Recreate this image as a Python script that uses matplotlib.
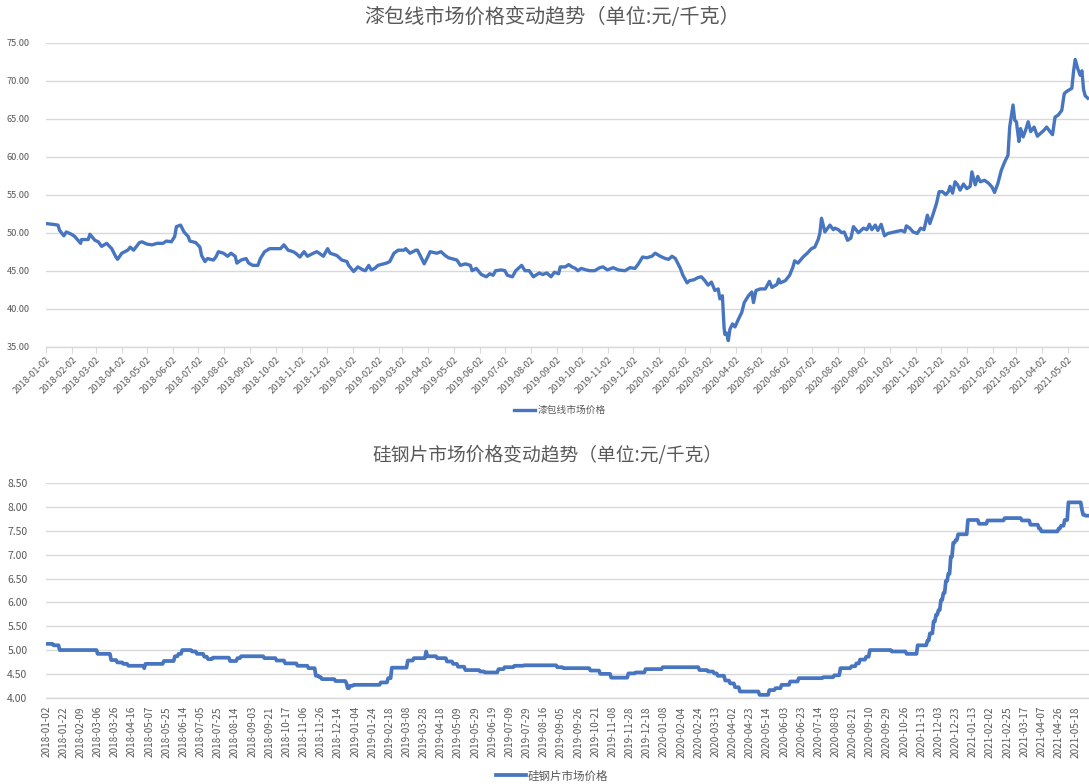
import matplotlib
matplotlib.use("Agg")
import matplotlib.pyplot as plt
import numpy as np
import pandas as pd

plt.rcParams['font.family'] = ['Noto Sans CJK SC', 'DejaVu Sans']

# ---------------- data: top chart (enamelled wire) ----------------
top_title = "漆包线市场价格变动趋势（单位:元/千克）"
top_legend = "漆包线市场价格"
top_dates = [
    "2018-01-02", "2018-01-10", "2018-01-16", "2018-01-18", "2018-01-23", "2018-01-26", "2018-02-01", "2018-02-05",
    "2018-02-12", "2018-02-13", "2018-02-21", "2018-02-23", "2018-03-01", "2018-03-05", "2018-03-09", "2018-03-15",
    "2018-03-21", "2018-03-26", "2018-03-28", "2018-04-02", "2018-04-09", "2018-04-12", "2018-04-16", "2018-04-23",
    "2018-04-26", "2018-05-02", "2018-05-08", "2018-05-14", "2018-05-21", "2018-05-25", "2018-05-31", "2018-06-04",
    "2018-06-06", "2018-06-11", "2018-06-15", "2018-06-20", "2018-06-22", "2018-06-29", "2018-07-04", "2018-07-06",
    "2018-07-10", "2018-07-13", "2018-07-20", "2018-07-23", "2018-07-26", "2018-08-01", "2018-08-06", "2018-08-10",
    "2018-08-15", "2018-08-17", "2018-08-22", "2018-08-28", "2018-08-31", "2018-09-05", "2018-09-11", "2018-09-14",
    "2018-09-19", "2018-09-25", "2018-09-28", "2018-10-08", "2018-10-12", "2018-10-17", "2018-10-23", "2018-10-26",
    "2018-10-31", "2018-11-05", "2018-11-09", "2018-11-16", "2018-11-20", "2018-11-23", "2018-11-28", "2018-12-03",
    "2018-12-06", "2018-12-14", "2018-12-20", "2018-12-26", "2018-12-28", "2019-01-03", "2019-01-08", "2019-01-14",
    "2019-01-17", "2019-01-21", "2019-01-24", "2019-01-28", "2019-02-01", "2019-02-11", "2019-02-15", "2019-02-20",
    "2019-02-25", "2019-03-04", "2019-03-06", "2019-03-11", "2019-03-18", "2019-03-20", "2019-03-25", "2019-03-28",
    "2019-04-02", "2019-04-04", "2019-04-12", "2019-04-17", "2019-04-22", "2019-04-26", "2019-05-06", "2019-05-10",
    "2019-05-16", "2019-05-22", "2019-05-24", "2019-05-29", "2019-06-04", "2019-06-10", "2019-06-14", "2019-06-18",
    "2019-06-21", "2019-06-28", "2019-07-02", "2019-07-05", "2019-07-11", "2019-07-15", "2019-07-22", "2019-07-26",
    "2019-07-31", "2019-08-05", "2019-08-12", "2019-08-16", "2019-08-21", "2019-08-26", "2019-08-30", "2019-09-04",
    "2019-09-06", "2019-09-12", "2019-09-16", "2019-09-20", "2019-09-24", "2019-09-27", "2019-10-01", "2019-10-07",
    "2019-10-11", "2019-10-17", "2019-10-23", "2019-10-27", "2019-11-01", "2019-11-08", "2019-11-14", "2019-11-22",
    "2019-11-28", "2019-12-04", "2019-12-08", "2019-12-13", "2019-12-18", "2019-12-24", "2019-12-28", "2020-01-03",
    "2020-01-09", "2020-01-13", "2020-01-17", "2020-01-21", "2020-01-27", "2020-01-30", "2020-02-04", "2020-02-07",
    "2020-02-12", "2020-02-17", "2020-02-21", "2020-02-25", "2020-02-29", "2020-03-04", "2020-03-08", "2020-03-12",
    "2020-03-14", "2020-03-17", "2020-03-19", "2020-03-20", "2020-03-22", "2020-03-24", "2020-03-26", "2020-03-29",
    "2020-04-01", "2020-04-05", "2020-04-09", "2020-04-12", "2020-04-17", "2020-04-21", "2020-04-23", "2020-04-26",
    "2020-05-01", "2020-05-07", "2020-05-12", "2020-05-15", "2020-05-21", "2020-05-23", "2020-05-25", "2020-05-31",
    "2020-06-05", "2020-06-09", "2020-06-11", "2020-06-15", "2020-06-21", "2020-06-26", "2020-07-01", "2020-07-05",
    "2020-07-09", "2020-07-11", "2020-07-13", "2020-07-17", "2020-07-23", "2020-07-27", "2020-07-29", "2020-08-02",
    "2020-08-06", "2020-08-09", "2020-08-13", "2020-08-17", "2020-08-20", "2020-08-26", "2020-09-01", "2020-09-05",
    "2020-09-08", "2020-09-11", "2020-09-15", "2020-09-18", "2020-09-22", "2020-09-26", "2020-09-30", "2020-10-08",
    "2020-10-16", "2020-10-20", "2020-10-22", "2020-10-26", "2020-10-30", "2020-11-04", "2020-11-08", "2020-11-12",
    "2020-11-16", "2020-11-19", "2020-11-23", "2020-11-27", "2020-11-30", "2020-12-04", "2020-12-08", "2020-12-11",
    "2020-12-13", "2020-12-16", "2020-12-19", "2020-12-22", "2020-12-25", "2020-12-29", "2021-01-02", "2021-01-06",
    "2021-01-08", "2021-01-12", "2021-01-15", "2021-01-18", "2021-01-23", "2021-01-28", "2021-02-01", "2021-02-04",
    "2021-02-08", "2021-02-12", "2021-02-16", "2021-02-20", "2021-02-22", "2021-02-26", "2021-02-28", "2021-03-02",
    "2021-03-05", "2021-03-07", "2021-03-10", "2021-03-13", "2021-03-16", "2021-03-19", "2021-03-23", "2021-03-27",
    "2021-03-31", "2021-04-04", "2021-04-07", "2021-04-11", "2021-04-14", "2021-04-17", "2021-04-21", "2021-04-25",
    "2021-04-28", "2021-05-01", "2021-05-07", "2021-05-09", "2021-05-11", "2021-05-14", "2021-05-17", "2021-05-19",
    "2021-05-21", "2021-05-23", "2021-05-26",
]
top_values = [
    51.2, 51.1, 51.0, 50.3, 49.6, 50.1, 49.8, 49.5,
    48.6, 49.1, 49.1, 49.8, 49.0, 48.8, 48.2, 48.6,
    47.9, 46.8, 46.5, 47.3, 47.7, 48.1, 47.7, 48.7,
    48.8, 48.5, 48.4, 48.6, 48.6, 48.9, 48.8, 49.5,
    50.8, 51.0, 50.1, 49.5, 48.9, 48.7, 48.1, 47.0,
    46.2, 46.6, 46.4, 46.8, 47.5, 47.3, 46.9, 47.3,
    46.9, 46.0, 46.4, 46.6, 46.0, 45.7, 45.7, 46.6,
    47.5, 47.9, 47.9, 47.9, 48.4, 47.7, 47.5, 47.3,
    46.8, 47.5, 46.9, 47.3, 47.5, 47.3, 46.9, 47.9,
    47.3, 47.0, 46.4, 46.2, 45.7, 44.9, 45.5, 45.1,
    45.0, 45.7, 45.1, 45.3, 45.7, 46.0, 46.2, 47.3,
    47.7, 47.7, 47.9, 47.3, 47.7, 47.7, 46.6, 45.9,
    47.0, 47.5, 47.3, 47.5, 47.0, 46.7, 46.4, 45.7,
    45.9, 45.7, 45.0, 45.3, 44.5, 44.2, 44.6, 44.4,
    45.0, 45.1, 45.0, 44.4, 44.2, 45.0, 45.7, 45.0,
    45.0, 44.2, 44.7, 44.5, 44.7, 44.2, 44.8, 44.6,
    45.5, 45.5, 45.8, 45.5, 45.3, 45.0, 45.3, 45.1,
    45.0, 45.0, 45.4, 45.5, 45.1, 45.4, 45.1, 45.0,
    45.4, 45.3, 45.9, 46.8, 46.7, 46.9, 47.3, 46.9,
    46.6, 46.5, 46.9, 46.6, 45.3, 44.4, 43.4, 43.7,
    43.8, 44.1, 44.2, 43.7, 43.1, 43.5, 42.4, 42.6,
    41.3, 41.7, 37.5, 36.6, 36.8, 35.8, 37.3, 38.0,
    37.6, 38.6, 39.5, 40.8, 41.7, 42.2, 40.8, 42.4,
    42.6, 42.6, 43.6, 42.8, 43.2, 43.9, 43.4, 43.7,
    44.4, 45.5, 46.3, 46.0, 46.8, 47.3, 47.9, 48.1,
    49.1, 49.9, 51.9, 50.1, 51.0, 50.4, 50.6, 50.4,
    50.0, 50.1, 49.0, 49.3, 50.8, 50.0, 50.6, 50.4,
    51.1, 50.4, 51.0, 50.3, 51.1, 49.6, 49.9, 50.1,
    50.3, 50.1, 50.9, 50.6, 50.1, 49.9, 50.6, 50.4,
    52.3, 51.2, 52.5, 53.9, 55.4, 55.4, 55.0, 55.4,
    56.1, 55.2, 56.7, 56.3, 55.6, 56.4, 55.8, 56.1,
    58.0, 56.3, 57.4, 56.7, 56.9, 56.5, 56.0, 55.3,
    56.5, 58.2, 59.3, 60.2, 63.9, 66.8, 64.8, 64.6,
    62.0, 63.7, 62.6, 63.5, 64.6, 63.3, 63.9, 62.7,
    63.1, 63.5, 63.9, 63.3, 62.9, 65.2, 65.5, 66.1,
    68.3, 68.6, 69.0, 71.2, 72.8, 71.6, 70.7, 71.3,
    68.8, 68.0, 67.7,
]
top_tick_dates = pd.date_range("2018-01-01", "2021-05-01", freq="MS") + pd.Timedelta(days=1)
top_ylim = (35, 75)
top_yticks = [35, 40, 45, 50, 55, 60, 65, 70, 75]

# ---------------- data: bottom chart (silicon steel) ----------------
bottom_title = "硅钢片市场价格变动趋势（单位:元/千克）"
bottom_legend = "硅钢片市场价格"
bottom_tick_labels = [
    "2018-01-02", "2018-01-22", "2018-02-09", "2018-03-06", "2018-03-26", "2018-04-16", "2018-05-07", "2018-05-25",
    "2018-06-14", "2018-07-05", "2018-07-25", "2018-08-14", "2018-09-03", "2018-09-21", "2018-10-17", "2018-11-06",
    "2018-11-26", "2018-12-14", "2019-01-04", "2019-01-24", "2019-02-18", "2019-03-08", "2019-03-28", "2019-04-18",
    "2019-05-09", "2019-05-29", "2019-06-19", "2019-07-09", "2019-07-29", "2019-08-16", "2019-09-05", "2019-09-26",
    "2019-10-21", "2019-11-08", "2019-11-28", "2019-12-18", "2020-01-08", "2020-02-04", "2020-02-24", "2020-03-13",
    "2020-04-02", "2020-04-23", "2020-05-14", "2020-06-03", "2020-06-23", "2020-07-14", "2020-08-03", "2020-08-21",
    "2020-09-10", "2020-09-29", "2020-10-26", "2020-11-13", "2020-12-03", "2020-12-23", "2021-01-13", "2021-02-02",
    "2021-02-25", "2021-03-17", "2021-04-07", "2021-04-26", "2021-05-18",
]
bottom_label_step = 14          # one label every 14 trading days
bottom_count = 851              # trading days shown
# trading-day index where the price changes, and the price from there on
bottom_change_index = [
    0, 6, 11, 42, 53, 58, 63, 67, 80, 81, 96, 105, 108, 111, 119, 123, 129, 132, 136, 150,
    156, 159, 178, 188, 195, 205, 214, 220, 223, 225, 236, 245, 246, 248, 251, 273, 279, 282,
    295, 300, 310, 311, 319, 327, 332, 336, 342, 354, 358, 369, 374, 382, 390, 417, 422, 444,
    452, 461, 475, 481, 489, 503, 533, 540, 545, 548, 554, 558, 562, 566, 582, 590, 595, 600,
    607, 614, 634, 643, 648, 657, 661, 664, 669, 672, 690, 702, 711, 719, 721, 724, 726, 728,
    730, 732, 734, 736, 738, 740, 742, 744, 752, 761, 768, 782, 796, 803, 810, 812, 826, 828,
    831, 834, 845, 846, 848,
]
bottom_levels = [
    5.13, 5.10, 5.00, 4.92, 4.79, 4.74, 4.71, 4.67, 4.62, 4.71, 4.77, 4.87, 4.92, 5.00, 4.97, 4.92, 4.86, 4.81, 4.84, 4.77,
    4.83, 4.87, 4.83, 4.78, 4.72, 4.67, 4.62, 4.46, 4.43, 4.39, 4.35, 4.30, 4.20, 4.25, 4.27, 4.32, 4.41, 4.63,
    4.78, 4.83, 4.97, 4.87, 4.83, 4.76, 4.71, 4.65, 4.58, 4.55, 4.53, 4.60, 4.64, 4.67, 4.68, 4.64, 4.62, 4.57,
    4.50, 4.42, 4.51, 4.53, 4.60, 4.64, 4.58, 4.55, 4.51, 4.46, 4.36, 4.30, 4.22, 4.13, 4.06, 4.16, 4.20, 4.27,
    4.34, 4.41, 4.43, 4.47, 4.62, 4.66, 4.72, 4.80, 4.86, 5.00, 4.97, 4.92, 5.10, 5.20, 5.35, 5.60, 5.74, 5.84,
    6.05, 6.20, 6.45, 6.60, 6.96, 7.25, 7.31, 7.43, 7.73, 7.65, 7.72, 7.77, 7.72, 7.63, 7.55, 7.49, 7.55, 7.61,
    7.73, 8.10, 7.95, 7.84, 7.82,
]
bottom_ylim = (4.0, 8.5)
bottom_yticks = [4.0, 4.5, 5.0, 5.5, 6.0, 6.5, 7.0, 7.5, 8.0, 8.5]

# ---------------- style ----------------
LINE = "#4775BF"
GRID = "#d9d9d9"
TEXT = "#595959"
W, H = 1089, 784

fig = plt.figure(figsize=(W / 100, H / 100), dpi=100)
fig.patch.set_facecolor("white")


def fx(px):
    return px / W


def fy(py):
    return 1 - py / H


def style_axes(ax):
    for s in ("top", "right", "left"):
        ax.spines[s].set_visible(False)
    ax.spines["bottom"].set_color(GRID)
    ax.spines["bottom"].set_linewidth(1.0)
    ax.grid(axis="y", color=GRID, linewidth=1.0)
    ax.set_axisbelow(True)
    ax.tick_params(axis="y", length=0, colors=TEXT)


# ---- top chart ----
x0_px = 46.2
px_per_day = 0.840
start = pd.Timestamp("2018-01-02")
days_visible = (W - x0_px) / px_per_day
ax1 = fig.add_axes([fx(x0_px), fy(346.7), fx(W - x0_px), (346.7 - 42.7) / H])
style_axes(ax1)
tdates = pd.to_datetime(top_dates)
ax1.plot(tdates, top_values, color=LINE, linewidth=2.4, solid_joinstyle="round", label=top_legend)
ax1.set_xlim(start, start + pd.Timedelta(days=days_visible))
ax1.set_ylim(*top_ylim)
ax1.set_yticks(top_yticks)
ax1.set_yticklabels([f"{v:.2f}" for v in top_yticks], fontsize=6.6, color=TEXT)
ax1.tick_params(axis="y", pad=12)
ax1.set_xticks(top_tick_dates)
ax1.set_xticklabels([d.strftime("%Y-%m-%d") for d in top_tick_dates], fontsize=6.7, color=TEXT,
                    rotation=45, ha="right", va="top", rotation_mode="anchor")
ax1.tick_params(axis="x", length=4, color=GRID, pad=2)
fig.text(0.507, fy(17), top_title, ha="center", va="center", fontsize=14.5, color=TEXT)
ax1.legend(loc="center", bbox_to_anchor=(fx(560), fy(410)), bbox_transform=fig.transFigure,
           frameon=False, fontsize=7, handlelength=2.2, handletextpad=0.3, labelcolor=TEXT)

# ---- bottom chart ----
px_per_idx = 1.2257
lengths = np.diff(bottom_change_index + [bottom_count])
bottom_values = np.repeat(bottom_levels, lengths)
idx = np.arange(bottom_count)
left_idx = -0.5
left_px = x0_px + left_idx * px_per_idx
right_idx = left_idx + (W - left_px) / px_per_idx
ax2 = fig.add_axes([fx(left_px), fy(697.7), fx(W - left_px), (697.7 - 483.3) / H])
style_axes(ax2)
ax2.plot(idx, bottom_values, color=LINE, linewidth=2.7, solid_joinstyle="round", label=bottom_legend)
ax2.set_xlim(left_idx, right_idx)
ax2.set_ylim(*bottom_ylim)
ax2.set_yticks(bottom_yticks)
ax2.set_yticklabels([f"{v:.2f}" for v in bottom_yticks], fontsize=7.5, color=TEXT)
ax2.tick_params(axis="y", pad=13)
bt = np.arange(len(bottom_tick_labels)) * bottom_label_step
ax2.set_xticks(bt)
ax2.set_xticklabels(bottom_tick_labels, fontsize=7.2, color=TEXT, rotation=90, ha="center", va="top")
ax2.tick_params(axis="x", length=0, pad=6)
fig.text(0.503, fy(455), bottom_title, ha="center", va="center", fontsize=13.5, color=TEXT)
ax2.legend(loc="center", bbox_to_anchor=(fx(552), fy(776)), bbox_transform=fig.transFigure,
           frameon=False, fontsize=8.3, handlelength=2.6, handletextpad=0.2, labelcolor=TEXT)

fig.savefig("out.png", dpi=100, facecolor="white")
